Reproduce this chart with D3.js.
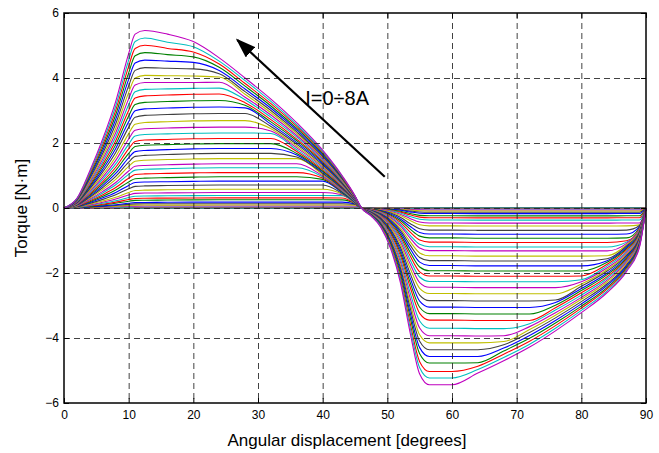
<!DOCTYPE html>
<html>
<head>
<meta charset="utf-8">
<script src="https://cdn.jsdelivr.net/npm/d3@7"></script>
<style>
  body { margin: 0; background: #fff; }
  text { font-family: "Liberation Sans", Arial, Helvetica, sans-serif; fill: #000; }
</style>
</head>
<body>
<svg id="chart" width="659" height="453"></svg>
<script>
// Rotor angle samples (degrees) for the motoring half and the braking half of the period
const anglesPos = [0, 2, 4, 6, 8, 10, 11, 12.5, 16, 20, 24, 28, 32, 36, 40, 43, 45, 46];
const anglesNeg = [47.5, 49, 50.5, 52, 53.5, 55, 56.5, 60, 64, 68, 72, 76, 80, 84, 87, 89, 90];

// Static torque [N·m], one row per phase current step (I = 0 ... 8 A, 40 steps)
const torquePos = [
  [0,0,0,0,0,0,0,0,0,0,0,0,0,0,0,0,0,0],
  [0,0,.001,.002,.003,.004,.005,.005,.005,.005,.005,.005,.005,.005,.005,.005,.005,0],
  [0,.001,.003,.006,.009,.013,.015,.015,.015,.015,.015,.015,.015,.015,.015,.015,.015,0],
  [0,.002,.006,.012,.018,.026,.029,.03,.03,.03,.03,.03,.03,.03,.03,.03,.03,0],
  [0,.003,.013,.023,.036,.052,.059,.06,.06,.06,.061,.061,.061,.061,.061,.061,.06,0],
  [0,.005,.02,.035,.054,.078,.088,.09,.09,.09,.091,.091,.091,.091,.091,.091,.09,0],
  [0,.007,.027,.05,.078,.113,.127,.13,.13,.13,.131,.131,.131,.131,.131,.131,.115,0],
  [0,.009,.036,.066,.102,.148,.167,.17,.175,.18,.182,.182,.182,.182,.182,.18,.125,0],
  [0,.013,.05,.094,.144,.209,.235,.24,.245,.25,.253,.253,.253,.253,.253,.25,.133,0],
  [0,.017,.063,.117,.18,.261,.294,.30,.305,.31,.313,.313,.313,.313,.313,.31,.14,0],
  [0,.02,.078,.144,.222,.322,.363,.37,.375,.38,.384,.384,.384,.384,.384,.38,.15,0],
  [0,.025,.097,.179,.276,.40,.451,.46,.465,.47,.475,.475,.475,.475,.475,.41,.157,0],
  [0,.03,.116,.215,.33,.479,.539,.55,.56,.57,.576,.576,.576,.576,.576,.43,.165,0],
  [0,.037,.143,.265,.408,.592,.666,.68,.69,.70,.707,.707,.707,.707,.707,.45,.17,0],
  [0,.044,.168,.312,.48,.696,.784,.80,.81,.82,.828,.828,.828,.828,.828,.475,.18,0],
  [0,.051,.193,.359,.552,.80,.902,.92,.935,.95,.96,.96,.96,.96,.88,.50,.19,0],
  [0,.058,.22,.41,.63,.914,1.03,1.05,1.065,1.08,1.09,1.09,1.09,1.09,.92,.52,.20,0],
  [0,.065,.25,.464,.714,1.035,1.166,1.19,1.21,1.23,1.24,1.24,1.24,1.24,.96,.54,.20,0],
  [0,.072,.275,.511,.786,1.14,1.284,1.31,1.33,1.35,1.36,1.36,1.36,1.36,.99,.56,.21,0],
  [0,.081,.309,.573,.882,1.279,1.44,1.47,1.49,1.51,1.52,1.52,1.52,1.52,1.03,.58,.22,0],
  [0,.089,.34,.632,.972,1.41,1.588,1.62,1.645,1.67,1.68,1.68,1.68,1.57,1.07,.60,.23,0],
  [0,.097,.372,.69,1.062,1.54,1.735,1.77,1.795,1.82,1.83,1.83,1.83,1.63,1.11,.62,.24,0],
  [0,.106,.405,.753,1.158,1.679,1.891,1.93,1.95,1.97,1.98,1.98,1.98,1.68,1.14,.64,.24,0],
  [0,.115,.439,.815,1.254,1.818,2.048,2.09,2.11,2.13,2.14,2.14,2.14,1.74,1.18,.66,.25,0],
  [0,.124,.475,.881,1.356,1.966,2.215,2.26,2.28,2.30,2.31,2.31,2.29,1.79,1.22,.69,.26,0],
  [0,.134,.512,.952,1.464,2.123,2.391,2.44,2.46,2.48,2.49,2.49,2.37,1.85,1.26,.71,.27,0],
  [0,.145,.552,1.026,1.578,2.288,2.577,2.63,2.655,2.68,2.69,2.69,2.44,1.90,1.29,.73,.28,0],
  [0,.157,.599,1.112,1.71,2.48,2.793,2.85,2.875,2.90,2.91,2.91,2.51,1.96,1.33,.75,.28,0],
  [0,.168,.641,1.19,1.83,2.654,2.989,3.05,3.075,3.10,3.11,3.08,2.58,2.01,1.37,.77,.29,0],
  [0,.179,.683,1.268,1.95,2.828,3.185,3.25,3.275,3.30,3.31,3.16,2.65,2.07,1.41,.79,.30,0],
  [0,.19,.725,1.346,2.07,3.002,3.381,3.45,3.475,3.50,3.51,3.24,2.72,2.12,1.44,.81,.31,0],
  [0,.201,.767,1.424,2.19,3.176,3.577,3.65,3.665,3.68,3.69,3.33,2.79,2.18,1.48,.83,.32,0],
  [0,.212,.811,1.505,2.316,3.358,3.783,3.86,3.86,3.86,3.87,3.41,2.86,2.23,1.52,.85,.32,0],
  [0,.224,.857,1.591,2.448,3.55,4.00,4.08,4.07,4.06,4.03,3.50,2.93,2.29,1.56,.87,.33,0],
  [0,.238,.907,1.685,2.592,3.758,4.234,4.32,4.30,4.28,4.13,3.58,3.00,2.34,1.59,.90,.34,0],
  [0,.25,.956,1.775,2.73,3.959,4.459,4.55,4.52,4.48,4.23,3.66,3.07,2.40,1.63,.92,.35,0],
  [0,.263,1.004,1.864,2.868,4.159,4.684,4.78,4.72,4.65,4.33,3.75,3.14,2.45,1.67,.94,.36,0],
  [0,.276,1.052,1.954,3.006,4.359,4.91,5.01,4.91,4.80,4.43,3.83,3.21,2.51,1.71,.96,.36,0],
  [0,.288,1.098,2.04,3.138,4.55,5.125,5.23,5.10,4.96,4.52,3.92,3.28,2.56,1.74,.98,.37,0],
  [0,.30,1.15,2.13,3.28,4.75,5.35,5.46,5.35,5.12,4.62,4.00,3.35,2.62,1.78,1.00,.38,0]
];

const torqueNeg = [
  [0,0,0,0,0,0,0,0,0,0,0,0,0,0,0,0,0],
  [0,-.001,-.001,-.002,-.004,-.005,-.005,-.005,-.005,-.005,-.005,-.005,-.005,-.005,-.005,-.005,0],
  [-.001,-.002,-.003,-.006,-.011,-.014,-.015,-.015,-.015,-.015,-.015,-.015,-.015,-.015,-.015,-.015,0],
  [-.001,-.003,-.007,-.013,-.021,-.028,-.03,-.03,-.03,-.03,-.03,-.03,-.03,-.03,-.03,-.03,0],
  [-.003,-.007,-.014,-.025,-.042,-.056,-.06,-.06,-.061,-.061,-.061,-.061,-.061,-.061,-.06,-.06,0],
  [-.004,-.01,-.021,-.038,-.063,-.085,-.09,-.09,-.091,-.091,-.091,-.091,-.091,-.091,-.09,-.09,0],
  [-.006,-.014,-.03,-.055,-.091,-.122,-.13,-.13,-.131,-.131,-.131,-.131,-.131,-.131,-.13,-.13,0],
  [-.008,-.019,-.039,-.071,-.119,-.16,-.17,-.17,-.172,-.172,-.172,-.172,-.172,-.172,-.17,-.17,0],
  [-.011,-.026,-.055,-.10,-.168,-.226,-.24,-.24,-.242,-.242,-.242,-.242,-.242,-.242,-.24,-.24,0],
  [-.014,-.033,-.069,-.126,-.21,-.282,-.30,-.30,-.303,-.303,-.303,-.303,-.303,-.303,-.30,-.30,0],
  [-.017,-.041,-.085,-.155,-.259,-.348,-.37,-.37,-.374,-.374,-.374,-.374,-.374,-.374,-.37,-.37,0],
  [-.021,-.051,-.106,-.193,-.322,-.432,-.46,-.46,-.465,-.465,-.465,-.465,-.465,-.465,-.46,-.46,0],
  [-.025,-.061,-.127,-.231,-.385,-.517,-.55,-.55,-.556,-.556,-.556,-.556,-.556,-.556,-.55,-.52,0],
  [-.031,-.075,-.156,-.286,-.476,-.639,-.68,-.68,-.687,-.687,-.687,-.687,-.687,-.687,-.68,-.54,0],
  [-.037,-.088,-.184,-.336,-.56,-.752,-.80,-.80,-.808,-.808,-.808,-.808,-.808,-.808,-.80,-.57,0],
  [-.042,-.101,-.212,-.386,-.644,-.865,-.92,-.92,-.929,-.929,-.929,-.929,-.929,-.929,-.92,-.60,0],
  [-.048,-.116,-.242,-.441,-.735,-.987,-1.05,-1.05,-1.06,-1.06,-1.06,-1.06,-1.06,-1.06,-1.01,-.62,0],
  [-.055,-.131,-.274,-.50,-.833,-1.119,-1.19,-1.19,-1.20,-1.20,-1.20,-1.20,-1.20,-1.20,-1.05,-.65,0],
  [-.06,-.144,-.301,-.55,-.917,-1.231,-1.31,-1.31,-1.32,-1.32,-1.32,-1.32,-1.32,-1.32,-1.09,-.67,0],
  [-.068,-.162,-.338,-.617,-1.029,-1.382,-1.47,-1.47,-1.48,-1.48,-1.48,-1.48,-1.48,-1.47,-1.13,-.70,0],
  [-.075,-.178,-.373,-.68,-1.134,-1.523,-1.62,-1.62,-1.63,-1.63,-1.63,-1.63,-1.63,-1.56,-1.17,-.72,0],
  [-.081,-.195,-.407,-.743,-1.239,-1.664,-1.77,-1.77,-1.78,-1.78,-1.78,-1.78,-1.78,-1.62,-1.21,-.75,0],
  [-.089,-.212,-.444,-.811,-1.351,-1.814,-1.93,-1.93,-1.94,-1.94,-1.94,-1.94,-1.94,-1.67,-1.25,-.77,0],
  [-.096,-.23,-.481,-.878,-1.463,-1.965,-2.09,-2.09,-2.10,-2.10,-2.10,-2.10,-2.09,-1.73,-1.29,-.80,0],
  [-.104,-.249,-.52,-.949,-1.582,-2.124,-2.26,-2.26,-2.27,-2.27,-2.27,-2.27,-2.21,-1.78,-1.34,-.82,0],
  [-.112,-.268,-.561,-1.025,-1.708,-2.294,-2.44,-2.44,-2.45,-2.45,-2.45,-2.45,-2.27,-1.84,-1.38,-.85,0],
  [-.121,-.289,-.605,-1.105,-1.841,-2.472,-2.63,-2.63,-2.64,-2.64,-2.64,-2.64,-2.34,-1.89,-1.42,-.87,0],
  [-.131,-.314,-.656,-1.197,-1.995,-2.679,-2.85,-2.85,-2.86,-2.86,-2.86,-2.83,-2.41,-1.94,-1.46,-.90,0],
  [-.14,-.336,-.702,-1.281,-2.135,-2.867,-3.05,-3.05,-3.06,-3.06,-3.06,-2.91,-2.48,-2.00,-1.50,-.92,0],
  [-.15,-.358,-.748,-1.365,-2.275,-3.055,-3.25,-3.25,-3.26,-3.26,-3.26,-2.99,-2.54,-2.05,-1.54,-.95,0],
  [-.159,-.38,-.794,-1.449,-2.415,-3.243,-3.45,-3.45,-3.46,-3.46,-3.46,-3.07,-2.61,-2.11,-1.58,-.97,0],
  [-.17,-.407,-.851,-1.554,-2.59,-3.478,-3.70,-3.70,-3.71,-3.71,-3.56,-3.14,-2.68,-2.16,-1.62,-1.00,0],
  [-.181,-.432,-.904,-1.651,-2.751,-3.694,-3.93,-3.93,-3.94,-3.93,-3.65,-3.22,-2.75,-2.22,-1.66,-1.02,0],
  [-.191,-.457,-.955,-1.743,-2.905,-3.901,-4.15,-4.15,-4.15,-4.11,-3.74,-3.30,-2.81,-2.27,-1.70,-1.05,0],
  [-.201,-.48,-1.003,-1.831,-3.052,-4.098,-4.36,-4.36,-4.36,-4.21,-3.83,-3.38,-2.88,-2.33,-1.75,-1.07,0],
  [-.21,-.503,-1.051,-1.919,-3.199,-4.296,-4.57,-4.57,-4.57,-4.31,-3.92,-3.46,-2.95,-2.38,-1.79,-1.10,0],
  [-.219,-.525,-1.097,-2.003,-3.339,-4.484,-4.77,-4.77,-4.76,-4.40,-4.01,-3.54,-3.02,-2.44,-1.83,-1.12,0],
  [-.231,-.553,-1.157,-2.113,-3.521,-4.728,-5.03,-5.03,-4.87,-4.50,-4.10,-3.62,-3.08,-2.49,-1.87,-1.15,0],
  [-.241,-.575,-1.203,-2.197,-3.661,-4.916,-5.23,-5.23,-4.97,-4.60,-4.19,-3.70,-3.15,-2.55,-1.91,-1.17,0],
  [-.25,-.60,-1.25,-2.28,-3.81,-5.11,-5.44,-5.44,-5.08,-4.70,-4.28,-3.78,-3.22,-2.60,-1.95,-1.20,0]
];

const xTicks = [0, 10, 20, 30, 40, 50, 60, 70, 80, 90];
const yTicks = [-6, -4, -2, 0, 2, 4, 6];
// Classic plot colour order: b, g, r, c, m, y, k
const lineColors = ["#0000ff", "#008000", "#ff0000", "#00bfbf", "#bf00bf", "#bfbf00", "#404040"];

const svg = d3.select("#chart");
const x = d3.scaleLinear().domain([0, 90]).range([64, 646]);
const y = d3.scaleLinear().domain([-6, 6]).range([403, 13]);

const angles = anglesPos.concat(anglesNeg);
const series = torquePos.map((row, k) => row.concat(torqueNeg[k]));

// Torque curves, lowest current first
const line = d3.line()
  .x((d, i) => x(angles[i]))
  .y(d => y(d))
  .curve(d3.curveMonotoneX);
svg.append("g").selectAll("path").data(series).join("path")
  .attr("d", d => line(d))
  .attr("fill", "none")
  .attr("stroke", (d, k) => lineColors[k % lineColors.length])
  .attr("stroke-width", 1.1)
  .attr("stroke-linejoin", "round");

// Dashed grid
const grid = svg.append("g").attr("stroke", "#222").attr("stroke-width", 1)
  .attr("stroke-dasharray", "6,4").attr("opacity", 0.85);
grid.selectAll(".gx").data(xTicks.slice(1, -1)).join("line")
  .attr("x1", d => x(d) + 0.5).attr("x2", d => x(d) + 0.5)
  .attr("y1", y(6)).attr("y2", y(-6));
grid.selectAll(".gy").data(yTicks.slice(1, -1)).join("line")
  .attr("x1", x(0)).attr("x2", x(90))
  .attr("y1", d => y(d) + 0.5).attr("y2", d => y(d) + 0.5);

// Axes with inward ticks on all four sides
const fmt = d3.format("d");
const axB = svg.append("g").attr("transform", `translate(0,${y(-6)})`)
  .call(d3.axisBottom(x).tickValues(xTicks).tickSizeInner(-5).tickSizeOuter(0).tickPadding(7).tickFormat(fmt));
const axL = svg.append("g").attr("transform", `translate(${x(0)},0)`)
  .call(d3.axisLeft(y).tickValues(yTicks).tickSizeInner(-5).tickSizeOuter(0).tickPadding(5).tickFormat(fmt));
const axT = svg.append("g").attr("transform", `translate(0,${y(6)})`)
  .call(d3.axisTop(x).tickValues(xTicks).tickSizeInner(-5).tickSizeOuter(0).tickFormat(""));
const axR = svg.append("g").attr("transform", `translate(${x(90)},0)`)
  .call(d3.axisRight(y).tickValues(yTicks).tickSizeInner(-5).tickSizeOuter(0).tickFormat(""));
[axB, axL, axT, axR].forEach(g => {
  g.select(".domain").remove();
  g.selectAll(".tick line").attr("stroke", "#000");
  g.selectAll("text").style("font-size", "12px").style("font-family", "'Liberation Sans', Arial, sans-serif");
});

// Frame
svg.append("rect")
  .attr("x", x(0)).attr("y", y(6))
  .attr("width", x(90) - x(0)).attr("height", y(-6) - y(6))
  .attr("fill", "none").attr("stroke", "#000").attr("stroke-width", 1.5);

// Axis titles
svg.append("text")
  .attr("x", (x(0) + x(90)) / 2 - 8).attr("y", 446)
  .attr("text-anchor", "middle").style("font-size", "17px")
  .text("Angular displacement [degrees]");
svg.append("text")
  .attr("transform", `translate(27,${(y(6) + y(-6)) / 2}) rotate(-90)`)
  .attr("text-anchor", "middle").style("font-size", "17px")
  .text("Torque [N·m]");

// Arrow showing the direction of increasing current
const defs = svg.append("defs");
defs.append("marker").attr("id", "head")
  .attr("viewBox", "0 -7 20 14").attr("refX", 18).attr("refY", 0)
  .attr("markerUnits", "userSpaceOnUse")
  .attr("markerWidth", 20).attr("markerHeight", 14).attr("orient", "auto")
  .append("path").attr("d", "M0,-7L20,0L0,7Z").attr("fill", "#000");
svg.append("line")
  .attr("x1", x(49.6)).attr("y1", y(0.96))
  .attr("x2", x(26.8)).attr("y2", y(5.17))
  .attr("stroke", "#000").attr("stroke-width", 2.2)
  .attr("marker-end", "url(#head)");
svg.append("text")
  .attr("x", x(37.3)).attr("y", y(3.17))
  .style("font-size", "20px")
  .text("I=0÷8A");
</script>
</body>
</html>
